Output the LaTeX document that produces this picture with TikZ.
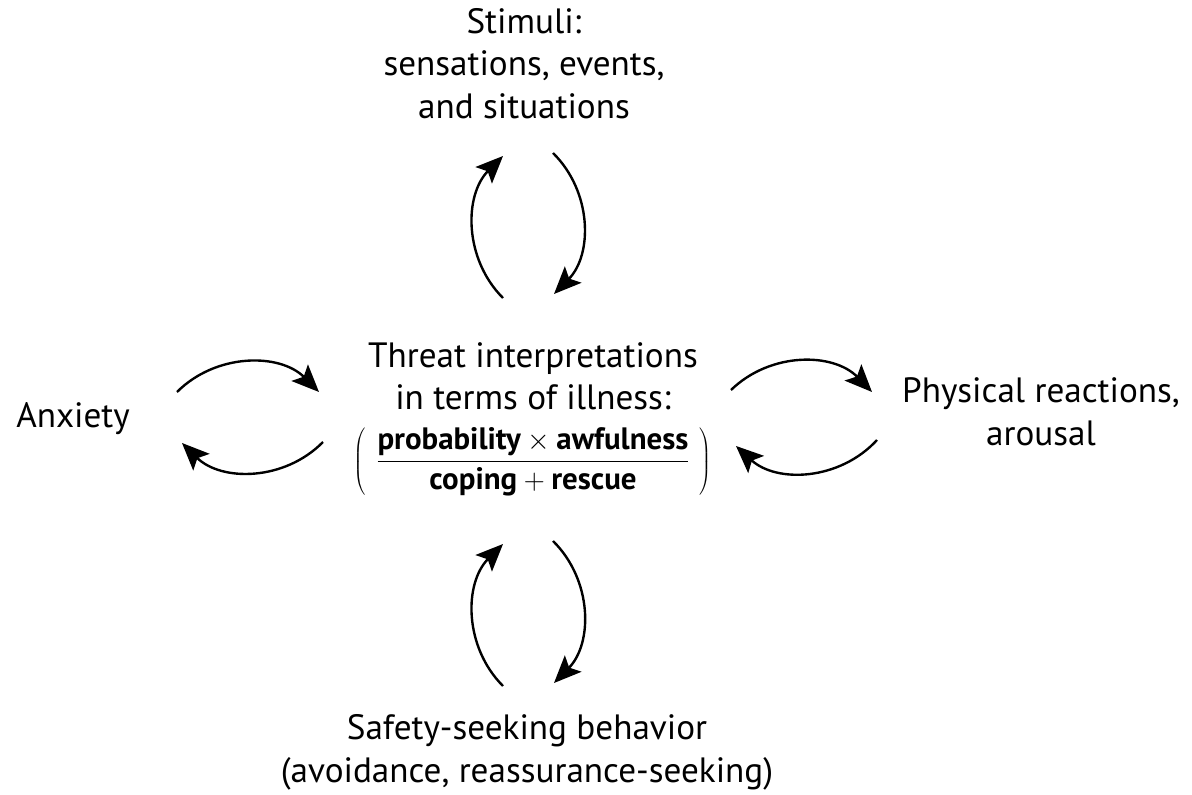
\documentclass[tikz,border=0pt]{standalone}
\usepackage{fontspec}
\setmainfont{PT Sans}
\usepackage{tikz}
\usetikzlibrary{arrows.meta}

\begin{document}
\begin{tikzpicture}[
  x=0.025cm, y=-0.025cm,
  every node/.style={font=\fontsize{25}{30}\selectfont, align=center, inner sep=0pt},
  loop/.style={-{Stealth[length=0.68cm, width=0.58cm, inset=0.14cm]}, line width=1.7pt, bend left=45}
]
\useasboundingbox (0,0) rectangle (1192,795);

% the boxes of text (placed by the baseline of their last line)
\node[anchor=base] (stimuli) at (524,118) {Stimuli:\\sensations, events,\\and situations};
\node[anchor=base] (threat) at (533,469) {Threat interpretations\\in terms of illness:\\[12pt]
  {\fontsize{22}{26}\selectfont$\left(\mkern6mu\displaystyle\frac{\textbf{probability}\times\textbf{awfulness}}{\textbf{coping}+\textbf{rescue}}\mkern6mu\right)$}};
\node[anchor=base] (anxiety) at (73,427) {Anxiety};
\node[anchor=base] (physical) at (1041,445) {Physical reactions,\\arousal};
\node[anchor=base] (safety) at (527,782) {Safety-seeking behavior\\(avoidance, reassurance-seeking)};

% ends of the loops
\coordinate (topA) at (503,298);
\coordinate (topB) at (503,156);
\coordinate (topC) at (553,153);
\coordinate (topD) at (554,294);
\coordinate (botA) at (503,686);
\coordinate (botB) at (503,544);
\coordinate (botC) at (553,541);
\coordinate (botD) at (554,683);
\coordinate (lftA) at (177,392);
\coordinate (lftB) at (319,392);
\coordinate (lftC) at (323,442);
\coordinate (lftD) at (182,443);
\coordinate (rgtA) at (731,390);
\coordinate (rgtB) at (872,392);
\coordinate (rgtC) at (877,440);
\coordinate (rgtD) at (736,446);

% loops
\draw[loop] (topA) to (topB);
\draw[loop] (topC) to (topD);
\draw[loop] (botA) to (botB);
\draw[loop] (botC) to (botD);
\draw[loop] (lftA) to (lftB);
\draw[loop] (lftC) to (lftD);
\draw[loop] (rgtA) to (rgtB);
\draw[loop] (rgtC) to (rgtD);

\end{tikzpicture}
\end{document}
